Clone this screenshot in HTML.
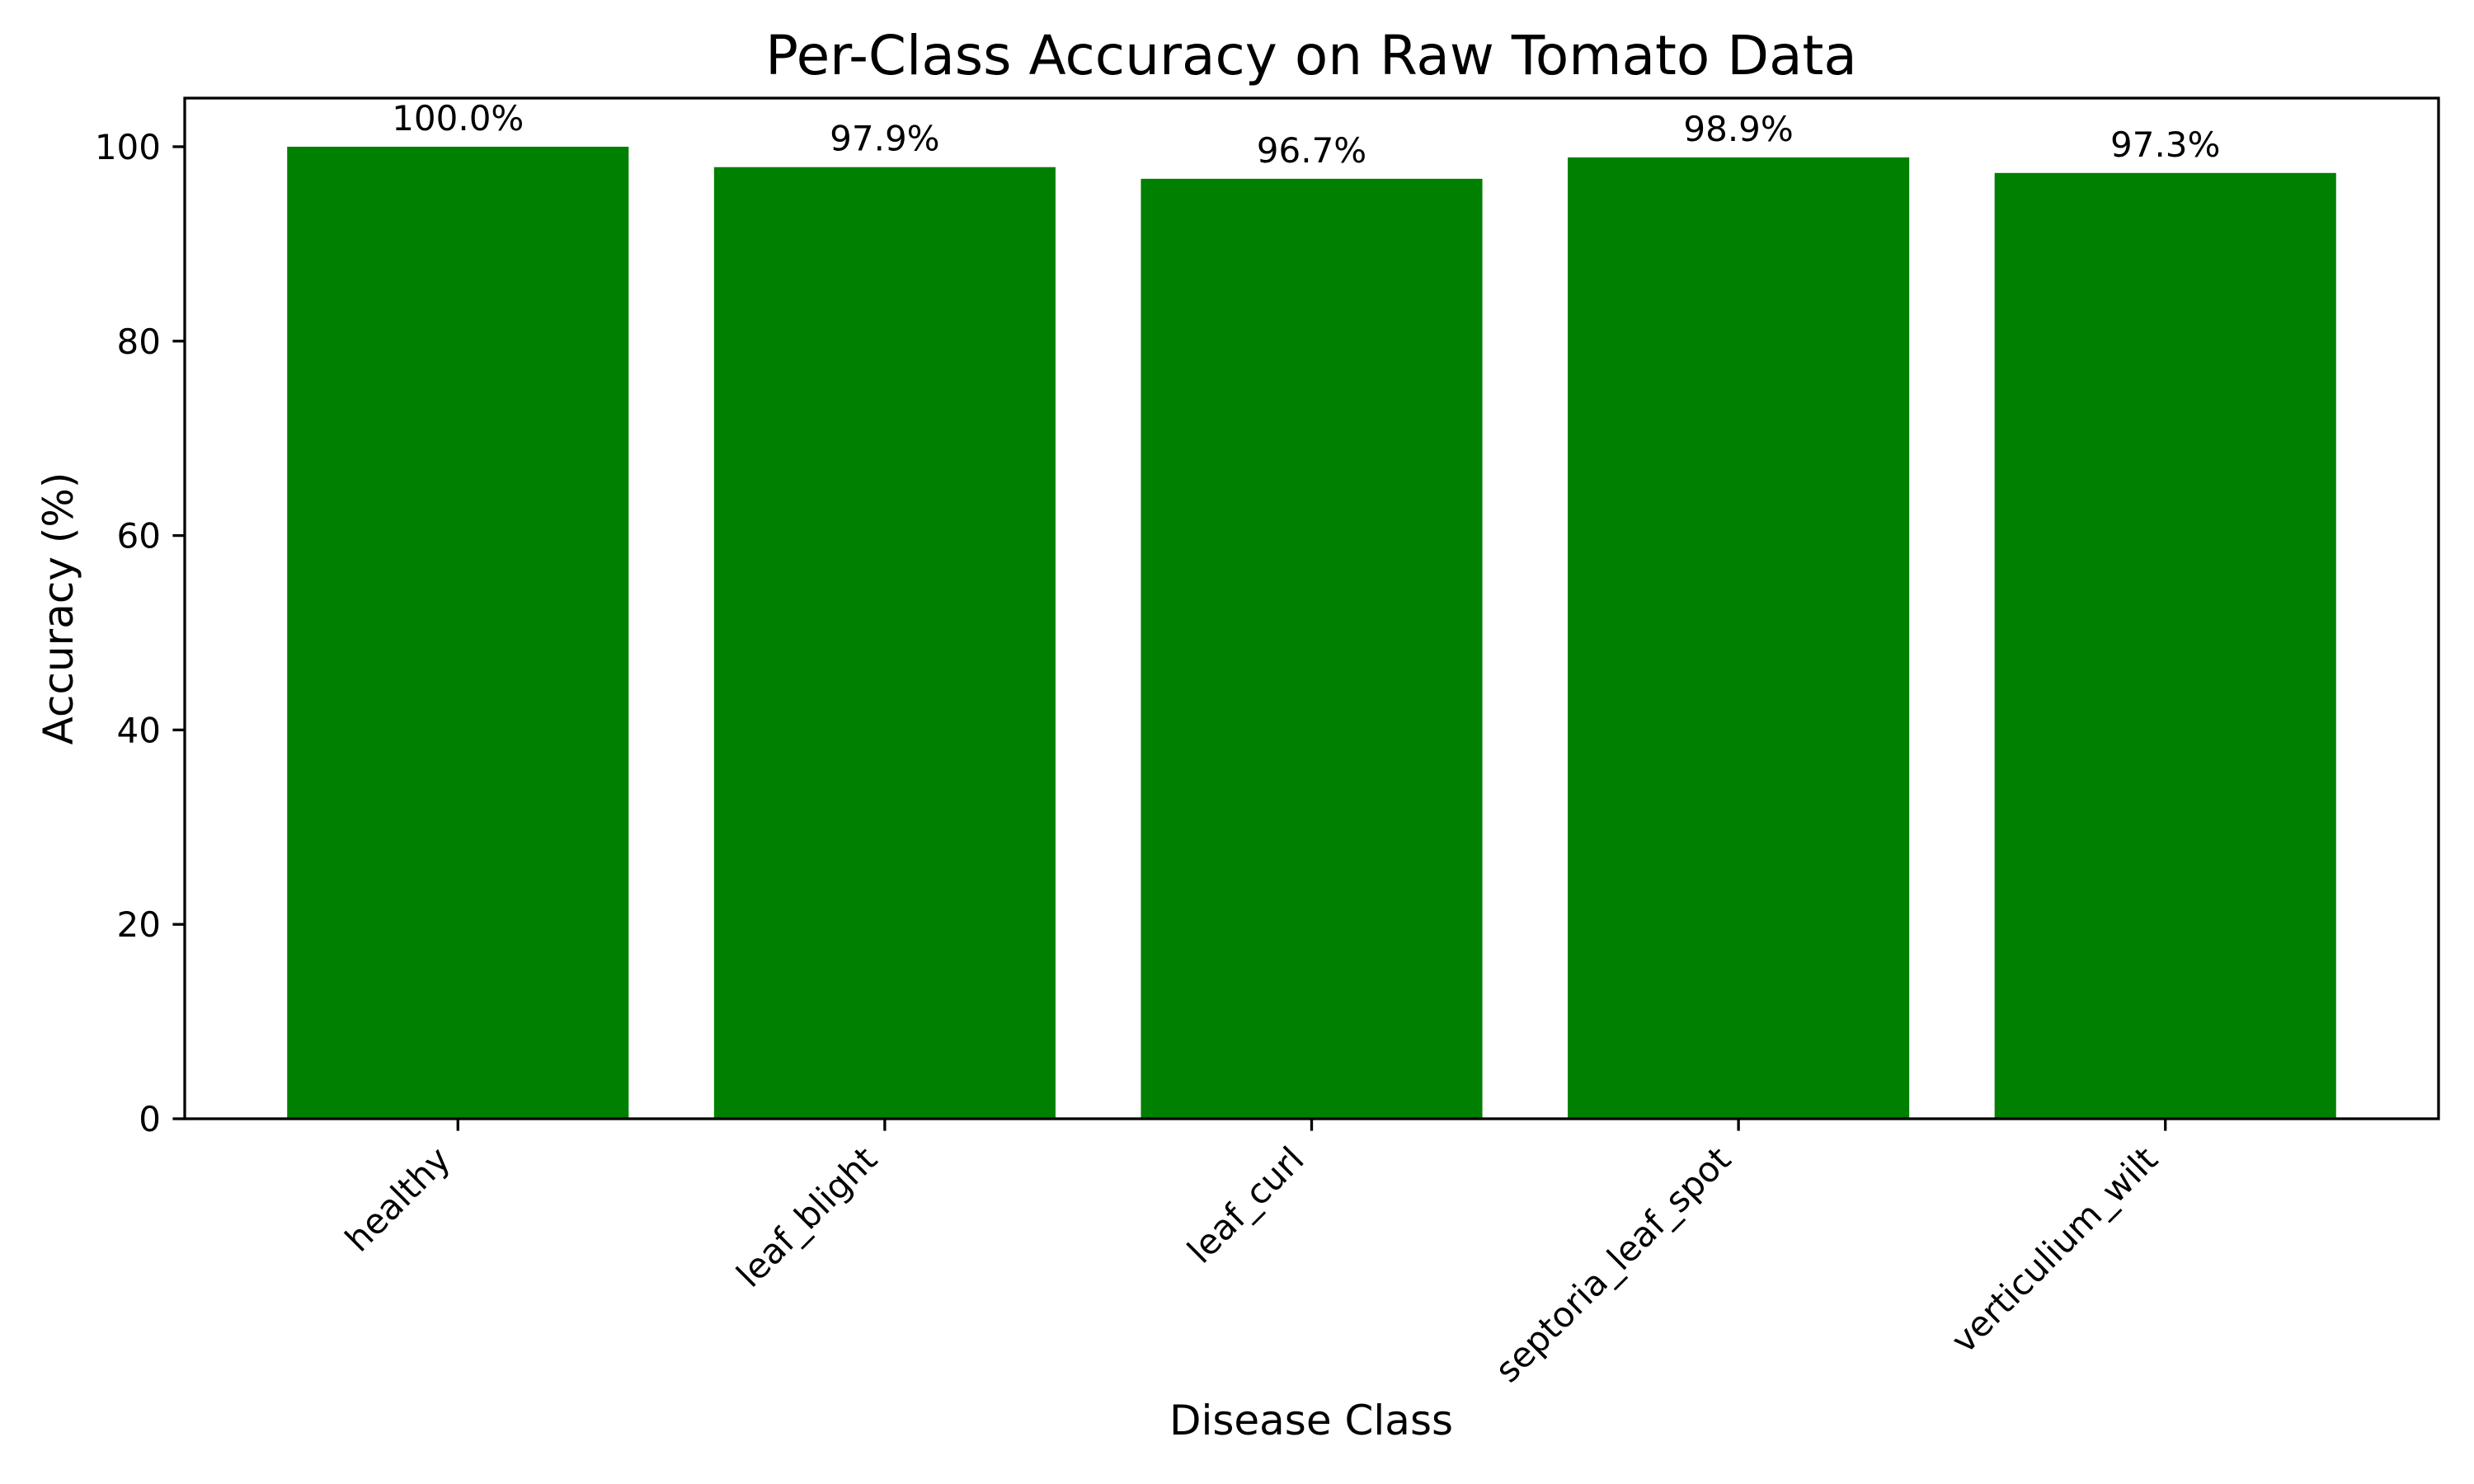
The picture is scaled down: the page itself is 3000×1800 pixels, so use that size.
<!DOCTYPE html>
<html><head><meta charset="utf-8"><style>
html,body{margin:0;padding:0;background:#fff;}
svg{display:block;font-family:"DejaVu Sans","Liberation Sans",sans-serif;}
</style></head><body>
<svg id="chart" width="3000" height="1800" viewBox="0 0 3000 1800">
<rect width="3000" height="1800" fill="#fff"/>
<text x="1590" y="90" font-size="66" text-anchor="middle">Per-Class Accuracy on Raw Tomato Data</text>
<g id="bars"></g>
<g id="axes"></g>
<text x="1590" y="1740" font-size="50" text-anchor="middle">Disease Class</text>
<text transform="translate(88,738) rotate(-90)" font-size="50" text-anchor="middle">Accuracy (%)</text>
</svg>
<script>
const categories = ["healthy","leaf_blight","leaf_curl","septoria_leaf_spot","verticulium_wilt"];
const accuracy = [100.0, 97.9, 96.7, 98.9, 97.3];
const valueLabels = ["100.0%","97.9%","96.7%","98.9%","97.3%"];
const yTicks = [0,20,40,60,80,100];

const L=224,R=2957,T=119,B=1357;
const xMin=-0.64,xMax=categories.length-1+0.64,yMax=105;
const NS="http://www.w3.org/2000/svg";
function sx(v){return L+(v-xMin)/(xMax-xMin)*(R-L);}
function sy(v){return B-v/yMax*(B-T);}
function mk(tag,attrs,parent,text){const e=document.createElementNS(NS,tag);for(const k in attrs)e.setAttribute(k,attrs[k]);if(text!==undefined)e.textContent=text;parent.appendChild(e);return e;}
const bars=document.getElementById('bars'),axes=document.getElementById('axes');
categories.forEach((c,i)=>{
  const x0=sx(i-0.4),x1=sx(i+0.4);
  const r=mk('rect',{x:x0,y:sy(accuracy[i]),width:x1-x0,height:B-sy(accuracy[i]),fill:'#008000'},bars);
  
  
  const t=mk('text',{x:sx(i),y:sy(accuracy[i])-20,'font-size':42,'text-anchor':'middle'},bars,valueLabels[i]);
  
  
  const tk=mk('line',{x1:sx(i),x2:sx(i),y1:B,y2:B+14.6,stroke:'#000','stroke-width':3.3},axes);
  
  
  const lb=mk('text',{transform:`translate(${sx(i)-7},${B+52}) rotate(-45)`,'font-size':42,'text-anchor':'end'},axes,c);
  
  
});
yTicks.forEach(v=>{
  const tk=mk('line',{x1:L-14.6,x2:L,y1:sy(v),y2:sy(v),stroke:'#000','stroke-width':3.3},axes);
  
  
  const lb=mk('text',{x:L-29,y:sy(v)+15,'font-size':42,'text-anchor':'end'},axes,String(v));
  
  
});
const fr=mk('rect',{x:L,y:T,width:R-L,height:B-T,fill:'none',stroke:'#000','stroke-width':3.3},axes);


</script>
</body></html>
